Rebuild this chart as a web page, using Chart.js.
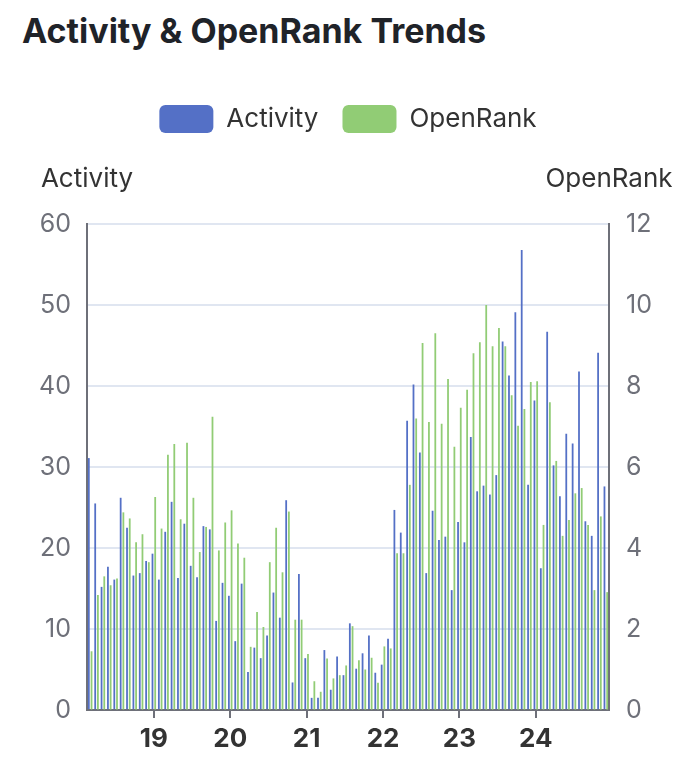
<!DOCTYPE html>
<html>
<head>
<meta charset="utf-8">
<script src="https://cdn.jsdelivr.net/npm/chart.js@4.4.0/dist/chart.umd.min.js"></script>
<style>
    html, body { margin: 0; padding: 0; background: #fff; }
    #wrap { position: relative; width: 696px; height: 770px; }
    #title { position: absolute; left: 22px; top: 10px; margin: 0; font: bold 34px Inter, sans-serif; color: #1f2329; }
    canvas { position: absolute; left: 0; top: 0; }
</style>
</head>
<body>
<div id="wrap">
    <h1 id="title">Activity &amp; OpenRank Trends</h1>
    <canvas id="trendChart" width="696" height="770"></canvas>
</div>
<script>
// Tháng (2018-03 .. 2024-12)
const months = [
    '2018-03', '2018-04', '2018-05', '2018-06', '2018-07', '2018-08', '2018-09', '2018-10', '2018-11', '2018-12',
    '2019-01', '2019-02', '2019-03', '2019-04', '2019-05', '2019-06', '2019-07', '2019-08', '2019-09', '2019-10', '2019-11', '2019-12',
    '2020-01', '2020-02', '2020-03', '2020-04', '2020-05', '2020-06', '2020-07', '2020-08', '2020-09', '2020-10', '2020-11', '2020-12',
    '2021-01', '2021-02', '2021-03', '2021-04', '2021-05', '2021-06', '2021-07', '2021-08', '2021-09', '2021-10', '2021-11', '2021-12',
    '2022-01', '2022-02', '2022-03', '2022-04', '2022-05', '2022-06', '2022-07', '2022-08', '2022-09', '2022-10', '2022-11', '2022-12',
    '2023-01', '2023-02', '2023-03', '2023-04', '2023-05', '2023-06', '2023-07', '2023-08', '2023-09', '2023-10', '2023-11', '2023-12',
    '2024-01', '2024-02', '2024-03', '2024-04', '2024-05', '2024-06', '2024-07', '2024-08', '2024-09', '2024-10', '2024-11', '2024-12'
];

const activity = [
    31.1, 25.5, 15.2, 17.7, 16.1, 26.2, 22.5, 16.6, 16.9, 18.4,
    19.3, 16.1, 22.0, 25.7, 16.3, 23.0, 17.8, 16.4, 22.7, 22.3, 11.0, 15.7,
    14.1, 8.5, 15.6, 4.7, 7.7, 6.4, 9.2, 14.5, 11.4, 25.9, 3.4, 16.8,
    6.4, 1.5, 1.5, 7.4, 2.5, 6.6, 4.3, 10.7, 5.1, 7.0, 9.2, 4.6,
    5.6, 8.8, 24.7, 21.9, 35.7, 40.2, 31.8, 16.9, 24.6, 21.0, 21.4, 14.8,
    23.2, 20.7, 33.7, 27.0, 27.7, 26.6, 29.0, 45.5, 41.3, 49.1, 56.8, 27.8,
    38.2, 17.5, 46.7, 30.2, 26.4, 34.1, 32.9, 41.8, 23.3, 21.5, 44.1, 27.6
];

const openRank = [
    1.45, 2.84, 3.3, 3.08, 3.25, 4.88, 4.73, 4.14, 4.34, 3.65,
    5.26, 4.48, 6.3, 6.57, 4.71, 6.6, 5.24, 3.9, 4.52, 7.24, 3.94, 4.63,
    4.93, 4.11, 3.76, 1.56, 2.42, 2.05, 3.65, 4.5, 3.4, 4.9, 2.23, 2.23,
    1.38, 0.71, 0.45, 1.27, 0.78, 0.86, 1.1, 2.07, 1.23, 1.0, 1.29, 0.67,
    1.57, 1.52, 3.87, 3.87, 5.56, 7.2, 9.06, 7.11, 9.3, 7.07, 8.17, 6.5,
    7.46, 7.91, 8.81, 9.08, 10.0, 8.98, 9.43, 8.98, 7.77, 7.02, 7.43, 8.1,
    8.12, 4.57, 7.6, 6.15, 4.3, 4.69, 5.35, 5.48, 4.57, 2.96, 4.78, 2.91
];

// Nhãn trục x (chỉ hiện tháng 1)
const yearStarts = ['2019-01', '2020-01', '2021-01', '2022-01', '2023-01', '2024-01'];
const yearLabels = ['19', '20', '21', '22', '23', '24'];

const BLUE = '#5470c6';
const GREEN = '#91cc75';
const AXIS = '#6e7079';
const FONT = 'Inter, sans-serif';

// Khoảng trống dưới legend
const legendSpace = {
    id: 'legendSpace',
    beforeLayout(chart) {
        const lg = chart.legend;
        if (lg && !lg._patched) {
            const fit = lg.fit;
            lg.fit = function () {
                fit.call(this);
                this.height = 143;
            };
            lg._patched = true;
        }
    }
};

// Tên trục ở trên cùng
const axisNames = {
    id: 'axisNames',
    afterDraw(chart) {
        const {ctx, chartArea} = chart;
        ctx.save();
        ctx.font = '26px ' + FONT;
        ctx.fillStyle = '#333';
        ctx.textAlign = 'center';
        ctx.textBaseline = 'alphabetic';
        ctx.fillText('Activity', chartArea.left, chartArea.top - 37);
        ctx.fillText('OpenRank', chartArea.right, chartArea.top - 37);
        ctx.restore();
    }
};

const isYearStart = i => yearStarts.indexOf(months[i]) >= 0;

new Chart(document.getElementById('trendChart'), {
    type: 'bar',
    data: {
        labels: months,
        datasets: [
            {label: 'Activity', data: activity, backgroundColor: BLUE, yAxisID: 'y',
             categoryPercentage: 0.85, barPercentage: 0.66},
            {label: 'OpenRank', data: openRank, backgroundColor: GREEN, yAxisID: 'y1',
             categoryPercentage: 0.85, barPercentage: 0.66}
        ]
    },
    options: {
        responsive: false,
        animation: false,
        layout: {padding: {top: 81, left: 0, right: 0, bottom: 0}},
        plugins: {
            legend: {
                position: 'top',
                labels: {
                    boxWidth: 54, boxHeight: 28, padding: 24,
                    useBorderRadius: true, borderRadius: 6,
                    color: '#333', font: {family: FONT, size: 26}
                }
            },
            tooltip: {enabled: false}
        },
        scales: {
            x: {
                offset: true,
                afterFit: s => { s.height = 60; },
                border: {color: AXIS, width: 2},
                grid: {
                    offset: false, drawOnChartArea: false, drawTicks: true, tickLength: 8, lineWidth: 2,
                    color: ctx => (ctx.index !== undefined && isYearStart(ctx.index)) ? AXIS : 'rgba(0,0,0,0)'
                },
                ticks: {
                    autoSkip: false, maxRotation: 0, minRotation: 0, padding: 6,
                    color: '#333', font: {family: FONT, size: 26, weight: 'bold'},
                    callback: (v, i) => {
                        const k = yearStarts.indexOf(months[i]);
                        return k >= 0 ? yearLabels[k] : '';
                    }
                }
            },
            y: {
                position: 'left',
                min: 0, max: 60,
                afterFit: s => { s.width = 87; },
                border: {color: AXIS, width: 2},
                grid: {color: '#e0e6f1', lineWidth: 2, drawTicks: false},
                ticks: {stepSize: 10, padding: 16, color: AXIS, font: {family: FONT, size: 25}}
            },
            y1: {
                position: 'right',
                min: 0, max: 12,
                afterFit: s => { s.width = 87; },
                border: {color: AXIS, width: 2},
                grid: {drawOnChartArea: false, drawTicks: false},
                ticks: {stepSize: 2, padding: 17, color: AXIS, font: {family: FONT, size: 25}}
            }
        }
    },
    plugins: [legendSpace, axisNames]
});
</script>
</body>
</html>
